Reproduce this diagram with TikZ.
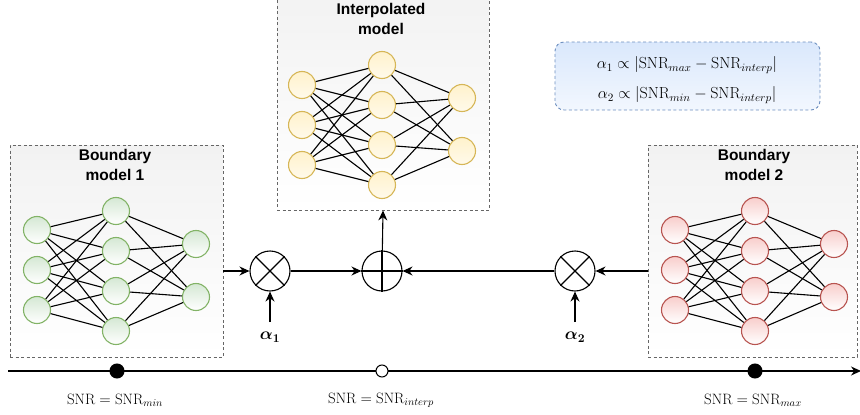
\documentclass[tikz,border=0pt]{standalone}
\usepackage{fix-cm}
\usepackage{fontspec}
\usepackage{amsmath,amssymb}
\newfontfamily\hv{Liberation Sans}
\usetikzlibrary{arrows.meta}
\definecolor{boxline}{HTML}{666666}
\definecolor{boxfill}{HTML}{F2F2F2}
\definecolor{gline}{HTML}{82B366}
\definecolor{gfill}{HTML}{D5E8D4}
\definecolor{yline}{HTML}{D6B656}
\definecolor{yfill}{HTML}{FFF2CC}
\definecolor{rline}{HTML}{B85450}
\definecolor{rfill}{HTML}{F8CECC}
\definecolor{bline}{HTML}{6C8EBF}
\definecolor{bfill}{HTML}{DAE8FC}
\tikzset{
  modelbox/.style={draw=boxline, dashed, line width=0.9pt, top color=boxfill, bottom color=white, inner sep=0, dash pattern=on 3pt off 2.5pt},
  title/.style={font=\hv\bfseries\fontsize{15.5}{20}\selectfont, align=center, inner sep=0},
  neuron/.style={circle, minimum size=27pt, inner sep=0, line width=1.1pt},
  ng/.style={neuron, draw=gline, top color=gfill, bottom color=white},
  ny/.style={neuron, draw=yline, top color=yfill, bottom color=yfill!40!white},
  nr/.style={neuron, draw=rline, top color=rfill, bottom color=white},
  link/.style={line width=1.1pt, black},
  op/.style={circle, draw, line width=1.1pt, minimum size=40pt, inner sep=0},
  arr/.style={line width=1.1pt, -{Stealth[length=10pt,width=9pt]}},
  mlabel/.style={font=\fontsize{15}{18}\selectfont, inner sep=0},
  flabel/.style={font=\fontsize{16}{19}\selectfont, inner sep=0},
  alabel/.style={font=\fontsize{17}{20}\selectfont, inner sep=0},
  fbox/.style={draw=bline, dashed, line width=0.9pt, rounded corners=9pt, top color=bfill, bottom color=bfill!35!white, inner sep=0, dash pattern=on 3pt off 2.5pt},
}
\begin{document}
\begin{tikzpicture}[x=1pt,y=-1pt]
\useasboundingbox (0,0) rectangle (860,415);
\clip (0,0) rectangle (860,415);
% boxes
\node[modelbox, minimum width=213pt, minimum height=212pt] (B1) at (116.5,251) {};
\node[modelbox, minimum width=212pt, minimum height=220pt] (BI) at (383,100) {};
\node[modelbox, minimum width=209pt, minimum height=212pt] (B2) at (752.5,251) {};
\node[title] (T1) at (115,165) {Boundary\\model 1};
\node[title] (TI) at (381,19) {Interpolated\\model};
\node[title] (T2) at (754,165) {Boundary\\model 2};
% formula box
\node[fbox, minimum width=265pt, minimum height=68pt] (F) at (687.5,76) {};
\node[flabel] (F1) at (687,65) {$\alpha_1 \propto |\mathrm{SNR}_{max}-\mathrm{SNR}_{interp}|$};
\node[flabel] (F2) at (687,95) {$\alpha_2 \propto |\mathrm{SNR}_{min}-\mathrm{SNR}_{interp}|$};
% networks
\foreach \pre/\sty/\xa/\xb/\xc/\ya/\yb in {g/ng/37/116/196/230/211, y/ny/302/382/462/85/65, r/nr/675/755/834/230/211}{
  \foreach \i in {1,2,3}{ \node[\sty] (\pre i\i) at (\xa,\ya+40*\i-40) {}; }
  \foreach \j in {1,2,3,4}{ \node[\sty] (\pre h\j) at (\xb,\yb+40*\j-40) {}; }
  \foreach \k in {1,2}{ \node[\sty] (\pre o\k) at (\xc,\yb+33+53*\k-53) {}; }
  \foreach \i in {1,2,3}{ \foreach \j in {1,2,3,4}{ \draw[link] (\pre i\i) -- (\pre h\j); } }
  \foreach \j in {1,2,3,4}{ \foreach \k in {1,2}{ \draw[link] (\pre h\j) -- (\pre o\k); } }
}
% operators
\node[op] (M1) at (270,271) {};
\node[op] (P) at (382,271) {};
\node[op] (M2) at (575,271) {};
\draw[line width=1.1pt] (M1.north west) -- (M1.south east) (M1.north east) -- (M1.south west);
\draw[line width=1.1pt] (M2.north west) -- (M2.south east) (M2.north east) -- (M2.south west);
\draw[line width=1.1pt] (P.north) -- (P.south) (P.west) -- (P.east);
\node[alabel] (A1) at (270,337) {$\boldsymbol{\alpha_1}$};
\node[alabel] (A2) at (575,337) {$\boldsymbol{\alpha_2}$};
\coordinate (A1t) at (270,322);
\coordinate (A2t) at (575,322);
\draw[arr] (A1t) -- (M1);
\draw[arr] (A2t) -- (M2);
\draw[arr] (B1.east |- M1) -- (M1);
\draw[arr] (M1) -- (P);
\draw[arr] (B2.west |- M2) -- (M2);
\draw[arr] (M2) -- (P);
\draw[arr] (P) -- (BI.south);
% timeline
\coordinate (L0) at (8,371);
\coordinate (L1) at (861,371);
\draw[arr] (L0) -- (L1);
\node[circle, fill=black, draw, line width=1pt, minimum size=14pt, inner sep=0] (D1) at (117,371) {};
\node[circle, fill=white, draw, line width=1pt, minimum size=12pt, inner sep=0] (D2) at (382,371) {};
\node[circle, fill=black, draw, line width=1pt, minimum size=14pt, inner sep=0] (D3) at (755,371) {};
\node[mlabel] (S1) at (115,400) {$\mathrm{SNR}=\mathrm{SNR}_{min}$};
\node[mlabel] (S2) at (381,400) {$\mathrm{SNR}=\mathrm{SNR}_{interp}$};
\node[mlabel] (S3) at (753,400) {$\mathrm{SNR}=\mathrm{SNR}_{max}$};
\end{tikzpicture}
\end{document}
